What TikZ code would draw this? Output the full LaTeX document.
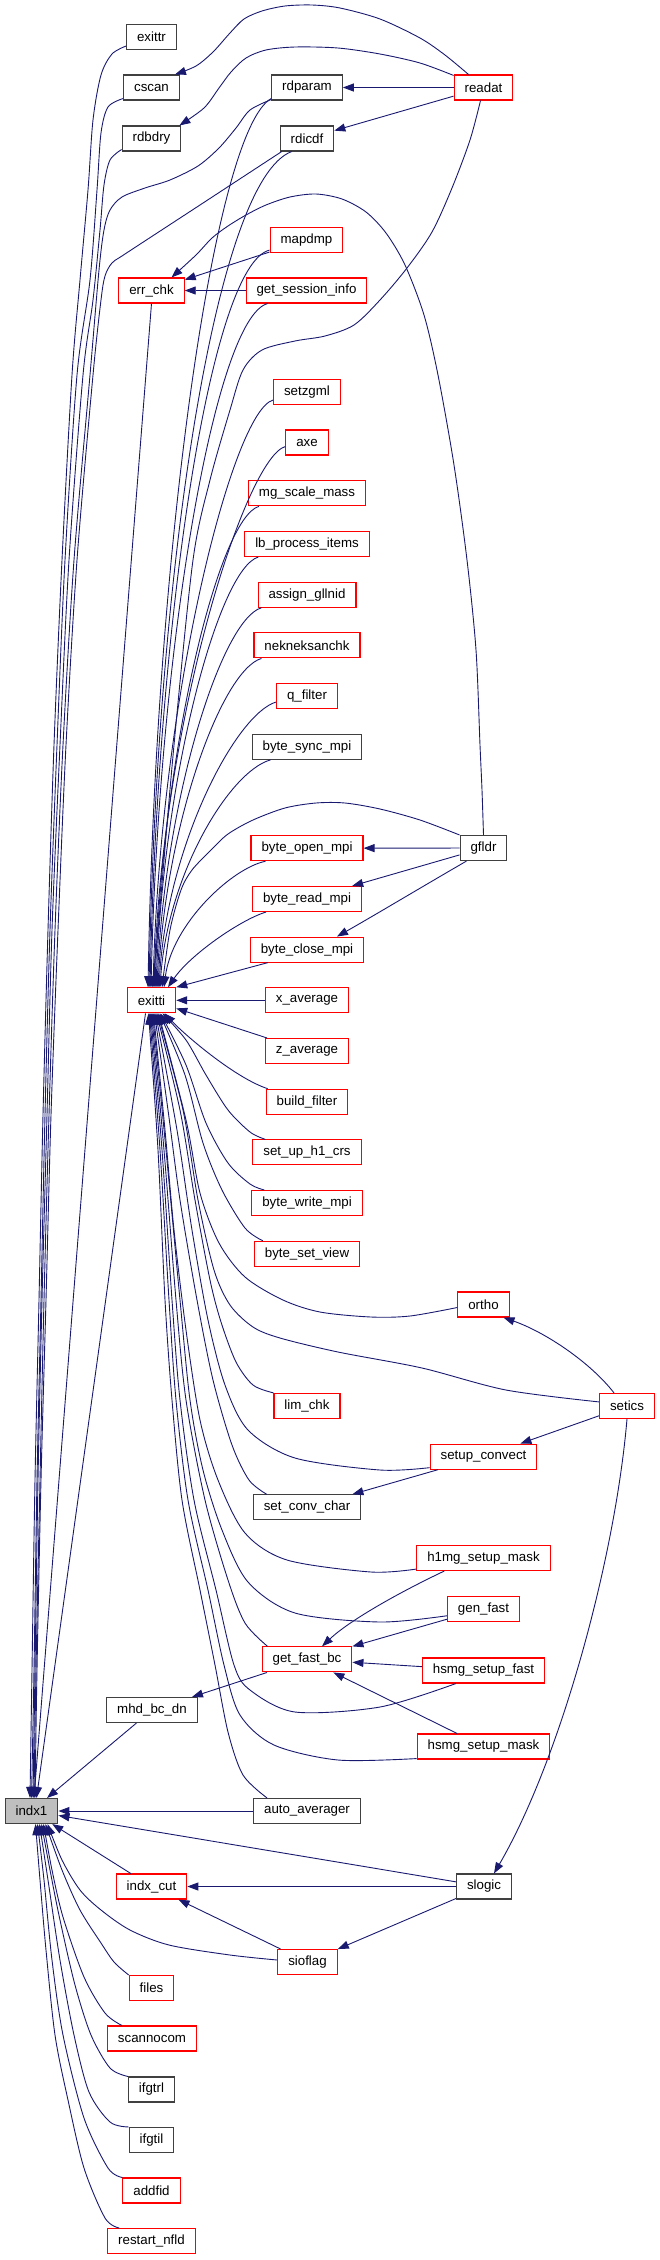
\documentclass[tikz,border=0pt]{standalone}
\usepackage{fontspec}
\setmainfont{Liberation Sans}
\usetikzlibrary{arrows.meta}
\definecolor{edgeblue}{RGB}{25,25,112}
\definecolor{nodered}{RGB}{255,0,0}
\definecolor{rootgray}{RGB}{191,191,191}
\begin{document}
\begin{tikzpicture}[x=1pt,y=-1pt,
  box/.style={draw, line width=1.1pt, minimum height=25pt, inner xsep=10.5pt, inner ysep=0pt, font=\fontsize{13.3pt}{16pt}\selectfont, fill=white},
  rbox/.style={box, draw=nodered},
  bbox/.style={box, draw=black!75},
  rootbox/.style={box, draw=black!75, fill=rootgray},
  edge/.style={draw=edgeblue, line width=0.9pt, -{Triangle[length=11pt,width=8pt]}}]
\useasboundingbox (0,0) rectangle (659,2260);
% nodes
\node[bbox] (exittr) at (151.5,37) {exittr};
\node[bbox] (cscan) at (151.5,87.5) {cscan};
\node[bbox] (rdbdry) at (151.5,138.5) {rdbdry};
\node[bbox] (rdparam) at (307,87.5) {rdparam};
\node[bbox] (rdicdf) at (307,138.5) {rdicdf};
\node[rbox] (readat) at (483.5,87.5) {readat};
\node[rbox] (mapdmp) at (306.5,240) {mapdmp};
\node[rbox] (errchk) at (151.5,290.5) {err\_chk};
\node[rbox] (gsi) at (306.5,290.5) {get\_session\_info};
\node[rbox] (setzgml) at (307,392) {setzgml};
\node[rbox] (axe) at (307,442.5) {axe};
\node[rbox] (mgscale) at (307,493.3) {mg\_scale\_mass};
\node[rbox] (lbproc) at (307,544) {lb\_process\_items};
\node[rbox] (assign) at (307,594.7) {assign\_gllnid};
\node[rbox] (nekn) at (307,645.4) {nekneksanchk};
\node[rbox] (qfilter) at (307,696) {q\_filter};
\node[bbox] (bsync) at (307,746.8) {byte\_sync\_mpi};
\node[rbox] (bopen) at (307,848.2) {byte\_open\_mpi};
\node[bbox] (gfldr) at (483.5,848) {gfldr};
\node[rbox] (bread) at (307,899) {byte\_read\_mpi};
\node[rbox] (bclose) at (307,949.6) {byte\_close\_mpi};
\node[rbox] (exitti) at (151.5,1000.3) {exitti};
\node[rbox] (xavg) at (307,1000.3) {x\_average};
\node[rbox] (zavg) at (307,1051) {z\_average};
\node[rbox] (bfilter) at (307,1101.7) {build\_filter};
\node[rbox] (h1crs) at (307,1152.4) {set\_up\_h1\_crs};
\node[rbox] (bwrite) at (307,1203) {byte\_write\_mpi};
\node[rbox] (bview) at (307,1253.8) {byte\_set\_view};
\node[rbox] (ortho) at (483.5,1304.5) {ortho};
\node[rbox] (limchk) at (307,1405.9) {lim\_chk};
\node[rbox] (setics) at (627,1405.9) {setics};
\node[rbox] (setupconv) at (483.5,1456.6) {setup\_convect};
\node[bbox] (setconv) at (307,1507.3) {set\_conv\_char};
\node[rbox] (h1mg) at (483.5,1558) {h1mg\_setup\_mask};
\node[rbox] (genfast) at (483.5,1608.7) {gen\_fast};
\node[rbox] (getfast) at (307,1659.4) {get\_fast\_bc};
\node[rbox] (hsfast) at (483.5,1670.5) {hsmg\_setup\_fast};
\node[bbox] (mhd) at (152,1710) {mhd\_bc\_dn};
\node[rbox] (hsmask) at (483.5,1746.5) {hsmg\_setup\_mask};
\node[rootbox] (indx1) at (31.5,1811) {indx1};
\node[bbox] (autoavg) at (307,1811) {auto\_averager};
\node[rbox] (indxcut) at (151.5,1886.5) {indx\_cut};
\node[bbox] (slogic) at (484,1886.5) {slogic};
\node[rbox] (sioflag) at (307.5,1962) {sioflag};
\node[rbox] (files) at (151.5,1988) {files};
\node[rbox] (scannocom) at (152,2038.5) {scannocom};
\node[bbox] (ifgtrl) at (151.5,2089.5) {ifgtrl};
\node[bbox] (ifgtil) at (151.5,2140) {ifgtil};
\node[rbox] (addfid) at (151.5,2190.5) {addfid};
\node[rbox] (restart) at (151.5,2241) {restart\_nfld};

% readat
\draw[edge] (readat) -- (rdparam);
\draw[edge] (readat) -- (rdicdf);
\draw[edge] plot[smooth] coordinates {([xshift=-15pt]readat.north) (445,55) (420,38) (380,19) (340,8) (312,5) (285,6) (262,11) (244,19) (230,33) (213,52) (196,66) ([xshift=-5pt]cscan.north east)};
\draw[edge] plot[smooth] coordinates {([yshift=-1pt]readat.north west) (420,63) (380,54) (338,48) (295,47) (266,50) (246,58) (231,72) (219,88) (204,108) ([xshift=-2pt]rdbdry.north east)};
\draw[edge] plot[smooth] coordinates {([xshift=-3pt]readat.south) (470,140) (452,188) (432,232) (407,268) (380,300) (354,325) (325,336) (295,341) (262,350) (243,370) (230,410) (210,480) (193,560) (174,745) (158,930) ([xshift=0.5pt]exitti.north)};

% err_chk
\draw[edge] plot[smooth] coordinates {(gfldr.north) (482,790) (480,745) (476,650) (467,560) (454,465) (438,375) (424,315) (405,265) (386,233) (366,212) (342,199) (316,194) (290,197) (266,205) (246,215) (228,226) (212,238) (196,255) ([xshift=20pt]errchk.north)};
\draw[edge] (mapdmp) -- (errchk);
\draw[edge] (gsi) -- (errchk);
\draw[edge] (errchk.south) -- ([xshift=2.5pt]indx1.north);
\draw[edge] ([xshift=-6pt]exitti.south) -- ([xshift=5pt]indx1.north);

% left trunks to indx1
\draw[edge] plot[smooth] coordinates {([yshift=4pt]exittr.south west) (112,54) (101,75) (93,120) (88,190) (80,280) (72,375) (62,560) (54,745) (48,930) (43,1115) (39,1300) (35,1480) (32,1670) ([xshift=-1.5pt]indx1.north)};
\draw[edge] plot[smooth] coordinates {([yshift=2pt]cscan.south west) (108,107) (101,133) (97,190) (90,280) (77,375) (65,560) (57,745) (50,930) (45,1115) (41,1300) (37,1480) (34,1670) (indx1.north)};
\draw[edge] plot[smooth] coordinates {([yshift=2pt]rdbdry.south west) (110,160) (104,185) (100,230) (93,300) (83,375) (69,560) (60,745) (52,930) (47,1115) (42,1300) (38,1480) (35,1670) ([xshift=1.5pt]indx1.north)};
\draw[edge] plot[smooth] coordinates {([yshift=1pt]rdparam.south west) (250,110) (236,128) (219,148) (198,166) (170,180) (145,188) (122,197) (110,210) (104,230) (99,270) (90,375) (74,560) (63,745) (55,930) (49,1115) (44,1300) (40,1480) (36,1670) ([xshift=2.5pt]indx1.north)};
\draw[edge] plot[smooth] coordinates {([xshift=2pt]rdicdf.south west) (200,205) (125,254) (112,263) (105,276) (101,300) (93,375) (77,560) (66,745) (58,930) (51,1115) (46,1300) (41,1480) (37,1670) ([xshift=3.5pt]indx1.north)};

% top callers of exitti
\draw[edge] ([yshift=2pt]rdparam.south west) .. controls (215,130) and (156,540) .. ([xshift=-3.5pt]exitti.north);
\draw[edge] ([xshift=12pt]rdicdf.south west) .. controls (215,180) and (157,570) .. ([xshift=-2.5pt]exitti.north);
\draw[edge] ([yshift=3pt]mapdmp.south west) .. controls (210,265) and (158,620) .. ([xshift=-1.5pt]exitti.north);
\draw[edge] ([xshift=22pt]gsi.south west) .. controls (215,318) and (159,645) .. ([xshift=-0.5pt]exitti.north);
\draw[edge] ([yshift=5pt]setzgml.south west) .. controls (233,411) and (161,693) .. ([xshift=1.5pt]exitti.north);
\draw[edge] ([yshift=9pt]axe.south west) .. controls (246,458) and (162,717) .. ([xshift=2.5pt]exitti.north);
\draw[edge] ([xshift=11pt]mgscale.south west) .. controls (219,518) and (163,746) .. ([xshift=3.5pt]exitti.north);
\draw[edge] ([xshift=14pt]lbproc.south west) .. controls (219,569) and (164,772) .. ([xshift=4.5pt]exitti.north);
\draw[edge] ([xshift=4pt]assign.south west) .. controls (222,619) and (165,797) .. ([xshift=5.5pt]exitti.north);
\draw[edge] ([xshift=8pt]nekn.south west) .. controls (222,670) and (166,822) .. ([xshift=6.5pt]exitti.north);
\draw[edge] ([yshift=7pt]qfilter.south west) .. controls (236,714) and (167,845) .. ([xshift=7.5pt]exitti.north);
\draw[edge] ([xshift=19pt]bsync.south west) .. controls (230,771) and (168,873) .. ([xshift=8.5pt]exitti.north);
\draw[edge] plot[smooth] coordinates {(gfldr.north west) (420,820) (380,809) (345,803) (316,803) (285,808) (253,820) (228,834) (211,850) (192,870) (181,890) (170,930) ([xshift=10.5pt]exitti.north)};
\draw[edge] ([xshift=15pt]bopen.south west) .. controls (232,868) and (172,924) .. ([xshift=12.5pt]exitti.north);
\draw[edge] ([xshift=14pt]bread.south west) .. controls (240,920) and (190,955) .. ([xshift=16.5pt]exitti.north);
\draw[edge] ([xshift=18pt]bclose.south west) -- (exitti.north east);
\draw[edge] (xavg) -- (exitti);
\draw[edge] (zavg) -- (exitti);

% gfldr
\draw[edge] (gfldr) -- (bopen);
\draw[edge] (gfldr) -- (bread);
\draw[edge] ([xshift=-17pt]gfldr.south) .. controls (420,888) and (375,915) .. ([xshift=30pt]bclose.north);

% bottom callers of exitti
\draw[edge] ([xshift=2pt]bfilter.north west) .. controls (235,1078) and (185,1035) .. ([xshift=13pt]exitti.south);
\draw[edge] plot[smooth] coordinates {([xshift=13pt]h1crs.north west) (250,1132) (228,1110) (206,1075) (186,1040) ([xshift=11pt]exitti.south)};
\draw[edge] plot[smooth] coordinates {([xshift=13pt]bwrite.north west) (250,1184) (228,1163) (206,1123) (186,1065) ([xshift=9pt]exitti.south)};
\draw[edge] plot[smooth] coordinates {([xshift=9pt]bview.north west) (245,1228) (222,1190) (203,1143) (185,1075) ([xshift=8pt]exitti.south)};
\draw[edge] plot[smooth] coordinates {([yshift=-3pt]ortho.west) (410,1316) (371,1317) (320,1312) (283,1300) (245,1277) (219,1243) (200,1193) (186,1120) ([xshift=7pt]exitti.south)};
\draw[edge] plot[smooth] coordinates {([yshift=4pt]setics.west) (506,1390) (422,1368) (338,1352) (280,1338) (253,1327) (230,1305) (214,1270) (198,1200) (183,1110) ([xshift=6pt]exitti.south)};
\draw[edge] plot[smooth] coordinates {(limchk.north west) (253,1385) (236,1362) (221,1322) (210,1280) (195,1200) (180,1110) ([xshift=5pt]exitti.south)};
\draw[edge] plot[smooth] coordinates {([yshift=2pt]setupconv.south west) (380,1470) (295,1458) (248,1430) (225,1385) (208,1320) (192,1230) (177,1130) ([xshift=4pt]exitti.south)};
\draw[edge] plot[smooth] coordinates {([xshift=14pt]setconv.north west) (249,1480) (232,1445) (213,1380) (197,1300) (180,1200) (168,1110) ([xshift=3pt]exitti.south)};
\draw[edge] plot[smooth] coordinates {([yshift=2pt]h1mg.south west) (371,1572) (287,1560) (245,1533) (218,1480) (200,1420) (186,1330) (174,1230) (165,1130) ([xshift=2pt]exitti.south)};
\draw[edge] plot[smooth] coordinates {([yshift=6pt]genfast.south west) (380,1622) (295,1613) (248,1582) (222,1530) (203,1470) (190,1400) (180,1300) (166,1150) ([xshift=1pt]exitti.south)};
\draw[edge] plot[smooth] coordinates {([xshift=6pt]getfast.north west) (245,1623) (228,1580) (205,1500) (186,1400) (176,1300) (164,1150) (exitti.south)};
\draw[edge] plot[smooth] coordinates {([xshift=34pt]hsfast.south west) (380,1707) (295,1712) (250,1690) (234,1665) (216,1590) (194,1500) (180,1400) (172,1300) (162,1150) ([xshift=-1pt]exitti.south)};
\draw[edge] plot[smooth] coordinates {([yshift=1pt]hsmask.south west) (338,1760) (274,1745) (240,1715) (224,1665) (208,1590) (188,1500) (176,1400) (169,1300) (160,1150) ([xshift=-2pt]exitti.south)};
\draw[edge] plot[smooth] coordinates {([xshift=14pt]autoavg.north west) (243,1775) (228,1732) (215,1665) (200,1590) (182,1500) (172,1400) (165,1300) (158,1150) ([xshift=-3pt]exitti.south)};

% right side
\draw[edge] (setics) -- (setupconv);
\draw[edge] (setupconv) -- (setconv);
\draw[edge] ([xshift=-13pt]setics.north) .. controls (590,1362) and (545,1332) .. ([xshift=20pt]ortho.south);
\draw[edge] (setics.south) .. controls (615,1560) and (560,1760) .. ([xshift=10pt]slogic.north);
\draw[edge] ([xshift=28pt]h1mg.south west) .. controls (400,1592) and (350,1620) .. ([xshift=15pt]getfast.north);
\draw[edge] (genfast) -- (getfast);
\draw[edge] (hsfast) -- (getfast);
\draw[edge] (hsmask) -- (getfast);
\draw[edge] (getfast) -- (mhd);

% into indx1
\draw[edge] (mhd) -- (indx1);
\draw[edge] (autoavg) -- (indx1);
\draw[edge] (slogic) -- (indx1);
\draw[edge] (indxcut) -- (indx1);
\draw[edge] (slogic) -- (indxcut);
\draw[edge] (slogic) -- (sioflag);
\draw[edge] (sioflag) -- (indxcut);
\draw[edge] plot[smooth] coordinates {([yshift=2pt]sioflag.west) (230,1955) (169,1945) (130,1930) (101,1910) (80,1890) (62,1860) ([xshift=16pt]indx1.south)};
\draw[edge] plot[smooth] coordinates {(files.north west) (114,1962) (101,1943) (80,1910) (62,1870) ([xshift=14pt]indx1.south)};
\draw[edge] plot[smooth] coordinates {([xshift=15pt]scannocom.north west) (105,2013) (84,1977) (63,1917) (52,1870) ([xshift=12pt]indx1.south)};
\draw[edge] plot[smooth] coordinates {(ifgtrl.north west) (110,2068) (91,2035) (75,1985) (60,1920) (50,1870) ([xshift=10pt]indx1.south)};
\draw[edge] plot[smooth] coordinates {(ifgtil.north west) (110,2122) (89,2092) (74,2035) (60,1960) (48,1880) ([xshift=8pt]indx1.south)};
\draw[edge] plot[smooth] coordinates {(addfid.north west) (108,2168) (84,2118) (63,2035) (52,1960) (44,1880) ([xshift=6pt]indx1.south)};
\draw[edge] plot[smooth] coordinates {([xshift=12pt]restart.north west) (105,2218) (84,2168) (68,2100) (55,2035) (46,1950) (40,1880) ([xshift=4pt]indx1.south)};
\end{tikzpicture}
\end{document}
